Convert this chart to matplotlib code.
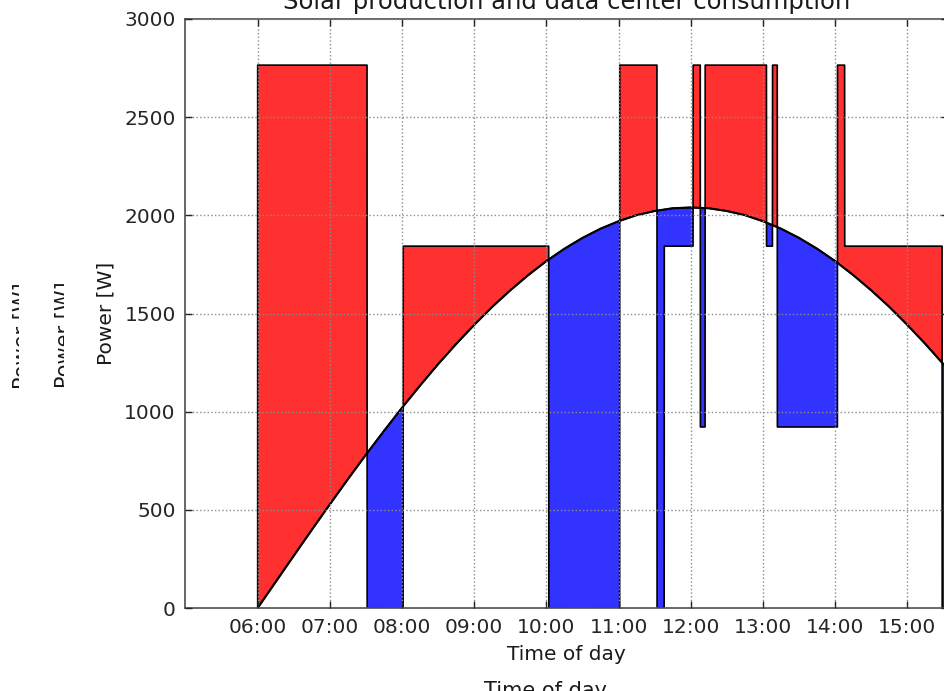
import numpy as np
import matplotlib
matplotlib.use("Agg")
import matplotlib.pyplot as plt
from matplotlib.transforms import Bbox


def hours(s):
    h, m = s.split(":")
    return int(h) + int(m) / 60.0


# solar production, read every 15 minutes
solar_times = ["06:00", "06:15", "06:30", "06:45", "07:00", "07:15", "07:30",
               "07:45", "08:00", "08:15", "08:30", "08:45", "09:00", "09:15",
               "09:30", "09:45", "10:00", "10:15", "10:30", "10:45", "11:00",
               "11:15", "11:30", "11:45", "12:00", "12:15", "12:30", "12:45",
               "13:00", "13:15", "13:30", "13:45", "14:00", "14:15", "14:30",
               "14:45", "15:00", "15:15", "15:30", "15:45", "16:00"]
solar_power = [0, 133, 266, 398, 528, 656, 781, 902, 1020, 1133, 1242, 1345,
               1442, 1534, 1618, 1696, 1767, 1830, 1885, 1932, 1970, 2001,
               2022, 2036, 2040, 2036, 2022, 2001, 1970, 1932, 1885, 1830,
               1767, 1696, 1618, 1534, 1442, 1345, 1242, 1133, 1020]

# data center consumption, value holds from each time until the next one
cons_times = ["06:00", "07:31", "08:01", "10:02", "11:01", "11:32", "11:38",
              "12:02", "12:08", "12:12", "13:03", "13:08", "13:12", "14:02",
              "14:08", "15:29"]
cons_power = [2765, 0, 1843, 0, 2765, 0, 1843, 2765, 922, 2765, 1843, 2765,
              922, 2765, 1843, 0]
end_time = "15:31"

tick_labels = ["06:00", "07:00", "08:00", "09:00", "10:00", "11:00", "12:00",
               "13:00", "14:00", "15:00"]

st = np.array([hours(s) for s in solar_times])
sp = np.array(solar_power, dtype=float)
ct = np.array([hours(s) for s in cons_times])
cp = np.array(cons_power, dtype=float)

t = np.arange(ct[0], hours(end_time), 1 / 600.0)
cons = cp[np.searchsorted(ct, t, side="right") - 1]
solar = np.interp(t, st, sp)

fig = plt.figure(figsize=(9.45, 6.91), dpi=100)
ax = fig.add_axes([185.5 / 945, 83 / 691, 762 / 945, 589 / 691])

ax.fill_between(t, solar, cons, where=cons >= solar, interpolate=True,
                facecolor=(1, 0.19, 0.19), edgecolor="k", linewidth=1.2)
ax.fill_between(t, solar, cons, where=cons < solar, interpolate=True,
                facecolor=(0.2, 0.2, 1), edgecolor="k", linewidth=1.2)
ax.plot(st, sp, color="k", linewidth=1.5)

ax.set_xlim(5, 5 + 762 / 72.18)
ax.set_ylim(0, 3000)
ax.set_xticks([hours(s) for s in tick_labels])
ax.set_xticklabels(tick_labels)
ax.set_yticks(range(0, 3001, 500))
ax.tick_params(direction="in", top=True, right=True, length=5, width=1,
               pad=7, labelsize=14.5, colors="0.15")
ax.grid(True, linestyle=":", color="0.55", linewidth=1)
ax.set_axisbelow(False)
for s in ax.spines.values():
    s.set_color("0.3")
    s.set_linewidth(1.2)

ax.set_title("Solar production and data center consumption", fontsize=17.5,
             color="0.1", pad=7)
ax.set_xlabel("Time of day", fontsize=14.5, color="0.1", labelpad=6)
ax.set_ylabel("Power [W]", fontsize=14.5, color="0.1", labelpad=6)

# leftover labels from earlier drawings, partly cut off
g1 = fig.text(55 / 945, 1 - 335 / 691, "Power [W]", rotation=90, ha="left",
              va="center", fontsize=15, color="0.1")
g1.set_clip_box(Bbox.from_extents(0, 0, 63.5, 691))
g1.set_clip_on(True)
g2 = fig.text(12.5 / 945, 1 - 336 / 691, "Power [W]", rotation=90, ha="left",
              va="center", fontsize=15, color="0.1")
g2.set_clip_box(Bbox.from_extents(0, 0, 18.5, 691))
g2.set_clip_on(True)
fig.text(545 / 945, 1 - 681 / 691, "Time of day", ha="center", va="top",
         fontsize=15, color="0.1")

fig.savefig("out.png", dpi=100)
